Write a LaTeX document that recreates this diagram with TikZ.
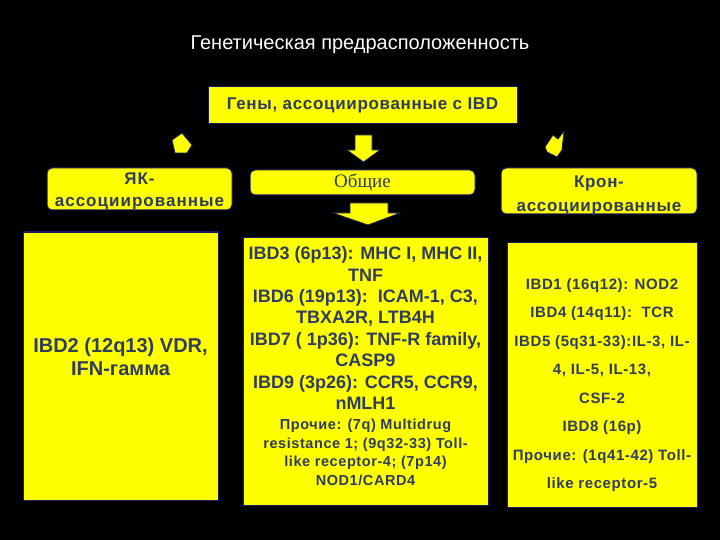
\documentclass[tikz,border=0pt]{standalone}
\usepackage{fontspec}
\setmainfont{Liberation Sans}
\newfontfamily\serifrm{Liberation Serif}
\newfontfamily\widebf[LetterSpace=4]{Liberation Sans Bold}
\newfontfamily\widerbf[LetterSpace=6]{Liberation Sans Bold}
\definecolor{yel}{RGB}{255,255,0}
\definecolor{txt}{RGB}{48,60,92}
\definecolor{edge}{RGB}{25,25,100}
\tikzset{
  ybox/.style={fill=yel, draw=edge, line width=1pt, inner sep=0pt, text=txt, font=\bfseries},
  rbox/.style={ybox, rounded corners=5pt},
  txtnode/.style={text=txt, align=center, inner sep=0pt},
  barrow/.style={fill=yel, draw=edge, line width=0.8pt, line join=miter},
}
\begin{document}
\begin{tikzpicture}[x=1pt,y=-1pt]
\fill[black] (0,0) rectangle (720,540);
\useasboundingbox (0,0) rectangle (720,540);

\node[text=white, font=\fontsize{20}{24}\selectfont] (title) at (360,45) {Генетическая предрасположенность};

\node[ybox, minimum width=309pt, minimum height=37pt, font=\widebf\fontsize{17}{19}\selectfont] (genes) at (362.5,105.5) {Гены, ассоциированные с IBD};

\node[rbox, minimum width=185pt, minimum height=42pt] (yak) at (139.5,189) {};
\node[txtnode, font=\widerbf\fontsize{17}{22}\selectfont] (yaktxt) at (139.5,191.5) {ЯК-\\ассоциированные};
\node[rbox, minimum width=225pt, minimum height=25pt, font=\serifrm\fontsize{19}{20}\selectfont] (obs) at (362.5,182.5) {Общие};
\node[rbox, minimum width=196pt, minimum height=46pt] (kron) at (599,191) {};
\node[txtnode, font=\widebf\fontsize{17}{24}\selectfont] (krontxt) at (599,195) {Крон-\\ассоциированные};

% big boxes
\node[ybox, minimum width=195pt, minimum height=268pt] (left) at (120.5,366) {};
\node[ybox, minimum width=245pt, minimum height=268pt] (center) at (365.5,371) {};
\node[ybox, minimum width=190pt, minimum height=265pt] (right) at (602,374.5) {};

\node[txtnode, font=\bfseries\fontsize{20}{23}\selectfont] (lefttxt) at (120.5,356.5) {IBD2 (12q13) VDR,\\IFN-гамма};

\node[txtnode, font=\bfseries\fontsize{18}{21.4}\selectfont] (ctrmain) at (365.5,328) {IBD3 (6p13): MHC I, MHC II,\\TNF\\IBD6 (19p13):\ \ ICAM-1, C3,\\TBXA2R, LTB4H\\IBD7 ( 1p36): TNF-R family,\\CASP9\\IBD9 (3p26): CCR5, CCR9,\\nMLH1};
\node[txtnode, font=\widebf\fontsize{14.5}{18.5}\selectfont] (ctroth) at (365.5,452.5) {Прочие: (7q) Multidrug\\resistance 1; (9q32-33) Toll-\\like receptor-4; (7p14)\\NOD1/CARD4};

\node[txtnode, font=\widebf\fontsize{15}{28.5}\selectfont] (righttxt) at (602,385) {IBD1 (16q12): NOD2\\IBD4 (14q11):\ \ TCR\\IBD5 (5q31-33):IL-3, IL-\\4, IL-5, IL-13,\\CSF-2\\IBD8 (16p)\\Прочие: (1q41-42) Toll-\\like receptor-5};

% block arrows
\draw[barrow] (355,135) -- (372,135) -- (372,150) -- (380,150) -- (363.5,162) -- (347,150) -- (355,150) -- cycle;
\draw[barrow] (350,203) -- (388,203) -- (388,213) -- (400,213) -- (368,225) -- (333,213) -- (350,213) -- cycle;
\draw[barrow] (172,140) -- (182,133) -- (192,145) -- (187,153) -- (175,153) -- cycle;
\draw[barrow] (553,135) -- (558,139) -- (564,131) -- (562,150) -- (557,157) -- (547,152) -- (545,147) -- cycle;
\end{tikzpicture}
\end{document}
